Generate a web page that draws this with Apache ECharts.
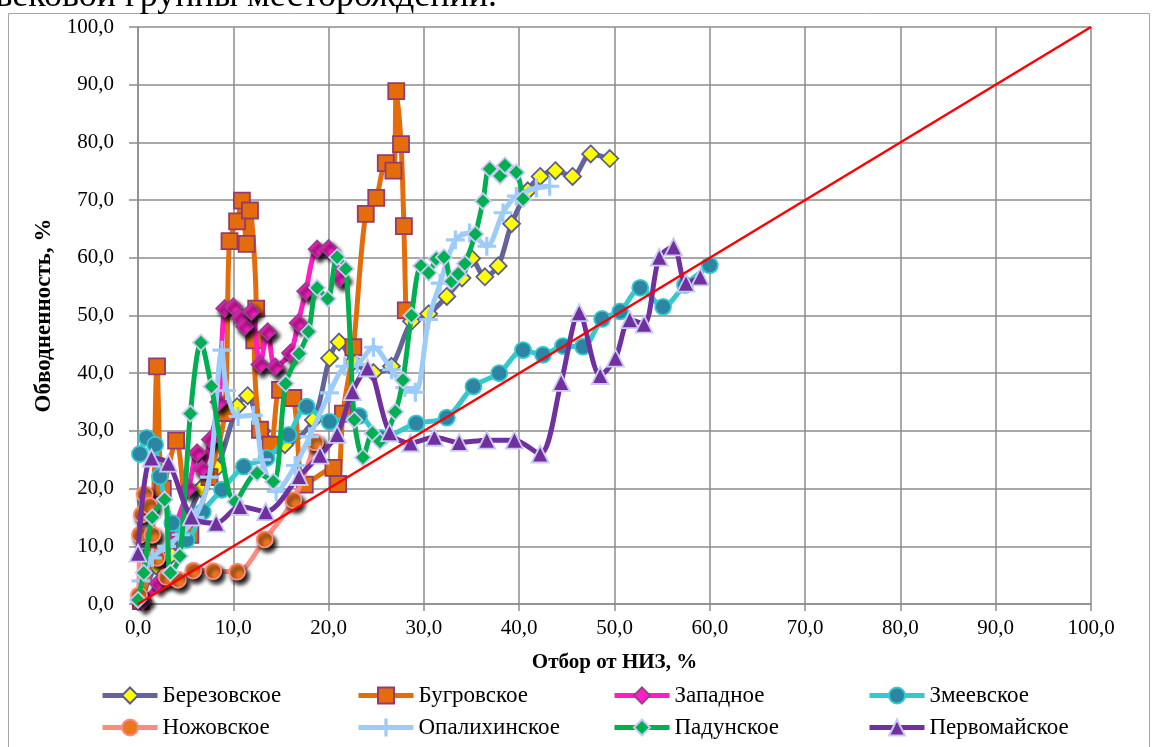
<!DOCTYPE html>
<html>
<head>
<meta charset="utf-8">
<script src="https://cdn.jsdelivr.net/npm/echarts@6/dist/echarts.min.js"></script>
<style>
  html, body { margin: 0; padding: 0; background: #fff; }
  #chart { width: 1156px; height: 747px; }
</style>
</head>
<body>
<div id="chart"></div>
<script>
// Обводненность в зависимости от отбора от НИЗ по месторождениям
const seriesNames = ['Березовское', 'Бугровское', 'Западное', 'Змеевское',
  'Ножовское', 'Опалихинское', 'Падунское', 'Первомайское'];

const xTicks = [0, 10, 20, 30, 40, 50, 60, 70, 80, 90, 100];
const yTicks = [0, 10, 20, 30, 40, 50, 60, 70, 80, 90, 100];

// [отбор от НИЗ, %; обводненность, %]
const berezovskoe = [[0.3, 0.5], [1.9, 6.6], [3.5, 8.5], [5.0, 14.0], [6.6, 20.0], [8.3, 23.6],
  [10.4, 34.2], [11.5, 36.1], [13.0, 30.0], [15.4, 27.6], [18.4, 31.9], [20.1, 42.6], [21.1, 45.4],
  [22.6, 42.0], [24.7, 40.1], [26.6, 41.2], [28.7, 49.0], [30.5, 50.3], [32.4, 53.3], [34.0, 56.5],
  [35.0, 59.9], [36.4, 56.7], [37.8, 58.6], [39.2, 65.9], [40.9, 71.6], [42.2, 74.1], [43.8, 75.1],
  [45.6, 74.1], [47.5, 78.0], [49.5, 77.2]];

const bugrovskoe = [[0.3, 0.5], [1.4, 8.0], [2.0, 41.2], [2.6, 20.0], [4.0, 28.3], [5.5, 12.0],
  [7.5, 22.0], [9.1, 33.1], [9.6, 62.9], [10.4, 66.3], [10.9, 69.9], [11.4, 62.4], [11.75, 68.2],
  [12.4, 51.2], [12.2, 45.7], [12.8, 30.2], [13.9, 27.6], [14.9, 37.1], [16.3, 35.7], [17.5, 20.7],
  [20.5, 23.6], [21.0, 20.8], [21.5, 33.0], [22.6, 44.5], [23.9, 67.6], [25.0, 70.4], [26.0, 76.4],
  [26.8, 75.1], [27.1, 88.9], [27.6, 79.7], [27.9, 65.5], [28.1, 50.9]];

const zapadnoe = [[0.5, 0.5], [2.1, 3.6], [3.9, 13.4], [5.3, 20.0], [6.2, 26.2], [6.7, 23.4],
  [7.6, 28.5], [8.5, 35.0], [9.1, 51.2], [10.0, 51.5], [10.7, 49.6], [11.2, 48.1], [11.9, 50.7],
  [12.8, 41.5], [13.6, 47.2], [14.4, 41.1], [16.0, 43.5], [16.8, 48.7], [17.6, 54.2], [18.8, 61.5],
  [20.0, 61.6], [21.2, 56.5]];

const zmeevskoe = [[0.2, 26.0], [0.9, 28.8], [1.8, 27.6], [2.3, 22.1], [3.6, 14.0], [5.1, 11.1],
  [6.8, 16.0], [8.8, 19.8], [11.1, 23.8], [13.5, 25.3], [15.8, 29.3], [17.7, 34.2], [20.1, 31.6],
  [23.2, 32.6], [25.5, 28.8], [29.2, 31.3], [32.4, 32.3], [35.2, 37.7], [37.9, 40.0], [40.4, 44.0],
  [42.5, 43.2], [44.6, 44.7], [46.7, 44.6], [48.7, 49.4], [50.6, 50.7], [52.7, 54.8], [55.1, 51.5],
  [57.4, 55.3], [60.0, 58.7]];

const nozhovskoe = [[0.1, 1.5], [0.2, 12.0], [0.4, 15.5], [0.7, 19.0], [1.2, 17.0], [1.5, 12.0],
  [2.0, 8.0], [3.0, 4.7], [4.2, 4.2], [5.8, 5.8], [7.9, 5.7], [10.4, 5.6], [13.3, 11.2], [16.3, 18.0],
  [18.6, 28.0]];

const opalikhinskoe = [[0.3, 4.0], [1.5, 8.0], [3.0, 10.0], [4.5, 12.0], [6.0, 15.0], [7.5, 22.0],
  [8.8, 44.0], [9.3, 37.0], [10.5, 32.5], [12.1, 32.7], [13.0, 25.0], [14.5, 19.5], [16.5, 24.0],
  [18.0, 29.0], [20.1, 36.6], [21.7, 41.2], [23.0, 41.5], [24.7, 44.5], [26.6, 40.6], [28.0, 37.5],
  [29.1, 36.7], [30.5, 49.3], [31.7, 55.6], [33.3, 63.1], [34.8, 64.3], [36.6, 62.0], [38.3, 67.8],
  [39.7, 70.7], [41.8, 72.1], [43.2, 72.4]];

const padunskoe = [[0.0, 0.7], [0.6, 5.4], [1.5, 15.0], [2.8, 18.1], [3.4, 5.4], [4.4, 8.3],
  [5.5, 33.0], [6.6, 45.3], [7.7, 37.7], [10.2, 17.7], [12.5, 22.7], [14.2, 21.2], [15.5, 38.2],
  [16.9, 43.4], [17.9, 47.2], [18.8, 54.8], [19.9, 52.9], [20.9, 60.1], [21.8, 58.1], [22.7, 31.9],
  [23.6, 25.4], [24.6, 29.6], [25.4, 28.2], [27.0, 33.3], [27.8, 38.8], [28.7, 50.0], [29.7, 58.6],
  [30.5, 57.4], [31.3, 59.8], [32.1, 60.1], [32.9, 55.9], [33.6, 57.2], [34.3, 59.0], [35.4, 64.1],
  [36.2, 69.8], [36.9, 75.4], [38.0, 74.2], [38.5, 76.0], [39.7, 74.8], [40.4, 70.2]];

const pervomaiskoe = [[0.0, 8.8], [1.4, 25.3], [3.2, 24.4], [5.6, 15.1], [8.2, 14.0], [10.7, 16.9],
  [13.4, 16.0], [16.9, 22.1], [19.1, 25.8], [20.9, 29.4], [22.5, 36.8], [24.1, 40.9], [26.4, 29.7],
  [28.6, 27.9], [31.1, 28.9], [33.7, 28.0], [36.6, 28.4], [39.5, 28.4], [42.2, 26.0], [44.4, 38.4],
  [46.3, 50.5], [48.5, 39.6], [50.1, 42.6], [51.6, 49.3], [53.1, 48.5], [54.7, 60.1], [56.2, 61.9],
  [57.5, 55.6], [59.0, 56.7]];

// линия равенства обводненности и отбора
const diagonal = [[0, 0], [100, 100]];

const serif = 'Liberation Serif';
const plusPath = 'path://M9.2,0H10.8V9.2H20V10.8H10.8V20H9.2V10.8H0V9.2H9.2Z';

const styles = [
  { data: berezovskoe, line: '#64649A', symbol: 'diamond', size: 17, fill: '#FFFF00', border: '#5C5C90' },
  { data: bugrovskoe, line: '#E46C0A', symbol: 'rect', size: 16, fill: '#E46C0A', border: '#953A6E' },
  { data: zapadnoe, line: '#FF1DC4', symbol: 'diamond', size: 17, fill: '#FF1DC4', border: '#9A3D8E', shadow: true },
  { data: zmeevskoe, line: '#36C9CC', symbol: 'circle', size: 16, fill: '#2C86A3', border: '#36C9CC' },
  { data: nozhovskoe, line: '#FF8A80', symbol: 'circle', size: 16, fill: '#E8771F', border: '#FF8A80', shadow: true },
  { data: opalikhinskoe, line: '#9DCBFA', symbol: plusPath, size: 17, fill: '#9DCBFA', border: '#9DCBFA' },
  { data: padunskoe, line: '#00AF50', symbol: 'diamond', size: 16, fill: '#00AF50', border: '#C9C9F5' },
  { data: pervomaiskoe, line: '#7030A0', symbol: 'triangle', size: 17, fill: '#7030A0', border: '#C9C9F5' }
];

const series = styles.map((s, i) => ({
  name: seriesNames[i],
  type: 'line',
  data: s.data,
  smooth: 0.3,
  symbol: s.symbol,
  symbolSize: s.size,
  showSymbol: true,
  lineStyle: { color: s.line, width: 5 },
  itemStyle: Object.assign({ color: s.fill, borderColor: s.border, borderWidth: 1.8 },
    s.shadow ? { shadowColor: 'rgba(0,0,0,0.95)', shadowBlur: 4, shadowOffsetX: 3, shadowOffsetY: 4 } : {}),
  z: 2 + i
}));

series.push({
  name: 'diagonal',
  type: 'line',
  data: diagonal,
  symbol: 'none',
  lineStyle: { color: '#FF0000', width: 2.5 },
  silent: true,
  z: 20
});

const legendLeft = [100, 356, 612, 867];
const legendTop = [684, 716];
const legends = seriesNames.map((n, i) => ({
  data: [n],
  left: legendLeft[i % 4],
  top: legendTop[Math.floor(i / 4)],
  itemWidth: 55,
  itemHeight: 20,
  itemGap: 0,
  padding: 0,
  selectedMode: false,
  lineStyle: { width: 5 },
  itemStyle: { shadowBlur: 0, shadowOffsetX: 0, shadowOffsetY: 0 },
  textStyle: { fontFamily: serif, fontSize: 23, color: '#000' }
}));

const fmt = v => v.toFixed(1).replace('.', ',');

const chart = echarts.init(document.getElementById('chart'), null, { renderer: 'canvas' });
chart.setOption({
  animation: false,
  backgroundColor: '#fff',
  textStyle: { fontFamily: serif },
  grid: { left: 138, right: 65, top: 27, bottom: 143 },
  legend: legends,
  graphic: [
    { type: 'rect', shape: { x: 8.5, y: 13.5, width: 1141, height: 740 },
      style: { fill: 'none', stroke: '#A6A6A6', lineWidth: 1 }, z: 0, silent: true },
    { type: 'text', x: 497, y: 15, silent: true,
      style: { text: 'Динамика обводненности месторождений вековой группы месторождений.',
        fontFamily: serif, fontSize: 36, fill: '#000', textAlign: 'right', textVerticalAlign: 'bottom' } }
  ],
  xAxis: {
    type: 'value', min: xTicks[0], max: xTicks[xTicks.length - 1], interval: 10,
    name: 'Отбор от НИЗ, %', nameLocation: 'middle', nameGap: 48,
    nameTextStyle: { fontFamily: serif, fontSize: 21, fontWeight: 'bold', color: '#000' },
    axisLine: { show: true, onZero: false, lineStyle: { color: '#8C8C8C', width: 1.5 } },
    axisTick: { show: true, inside: false, length: 7, lineStyle: { color: '#8C8C8C', width: 1.5 } },
    axisLabel: { formatter: fmt, fontFamily: serif, fontSize: 21, color: '#000', margin: 14 },
    splitLine: { show: true, lineStyle: { color: '#8C8C8C', width: 1.5 } }
  },
  yAxis: {
    type: 'value', min: yTicks[0], max: yTicks[yTicks.length - 1], interval: 10,
    name: 'Обводненность, %', nameLocation: 'middle', nameGap: 82, nameRotate: 90,
    nameTextStyle: { fontFamily: serif, fontSize: 23, fontWeight: 'bold', color: '#000' },
    axisLine: { show: true, onZero: false, lineStyle: { color: '#8C8C8C', width: 1.5 } },
    axisTick: { show: true, inside: false, length: 9, lineStyle: { color: '#8C8C8C', width: 1.5 } },
    axisLabel: { formatter: fmt, fontFamily: serif, fontSize: 21, color: '#000', margin: 24 },
    splitLine: { show: true, lineStyle: { color: '#8C8C8C', width: 1.5 } }
  },
  series: series
});
</script>
</body>
</html>
